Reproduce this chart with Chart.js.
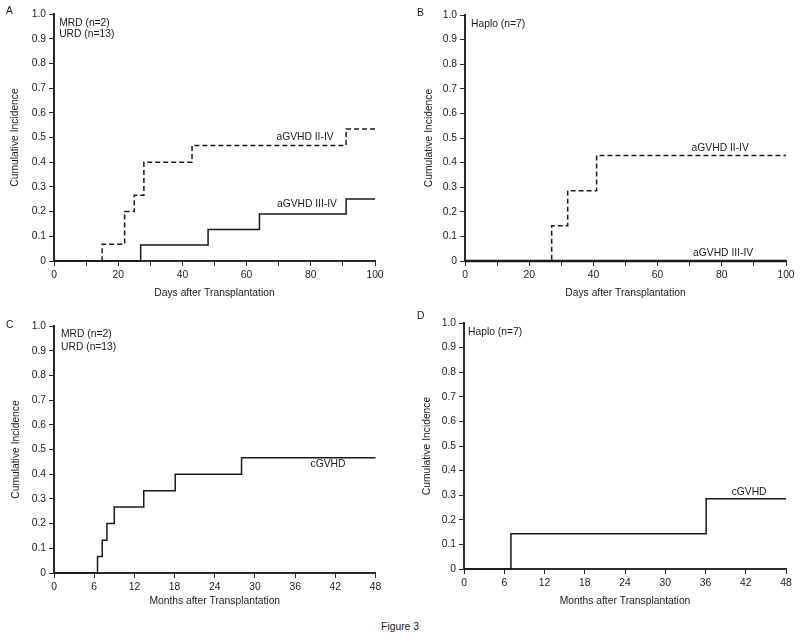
<!DOCTYPE html>
<html>
<head>
<meta charset="utf-8">
<script src="https://cdn.jsdelivr.net/npm/chart.js@4.4.0/dist/chart.umd.min.js"></script>
<style>
    body { margin: 0; background: #fff; width: 800px; height: 643px; position: relative; overflow: hidden;
           font-family: "Liberation Sans", Arial, sans-serif; color: #1a1a1a; }
    canvas { position: absolute; }
    .letter { position: absolute; font-size: 10.3px; line-height: 12px; }
    #fig { position: absolute; left: 0; width: 800px; top: 621px; text-align: center; font-size: 10.3px; }
</style>
</head>
<body>
<canvas id="panel-a" width="400" height="310" style="left:0;top:0"></canvas>
<canvas id="panel-b" width="400" height="310" style="left:400px;top:0"></canvas>
<canvas id="panel-c" width="400" height="310" style="left:0;top:310px"></canvas>
<canvas id="panel-d" width="400" height="310" style="left:400px;top:310px"></canvas>
<div class="letter" style="left:6px;top:5px">A</div>
<div class="letter" style="left:417px;top:7px">B</div>
<div class="letter" style="left:6px;top:319px">C</div>
<div class="letter" style="left:417px;top:310px">D</div>
<div id="fig">Figure 3</div>
<script>
// 数据：累积发生率（阶梯曲线）
const daysA_II = [0, 15, 22, 25, 28, 43, 91, 100];
const ciA_II = [0, 0.068, 0.2, 0.266, 0.4, 0.468, 0.534, 0.534];
const daysA_III = [0, 27, 48, 64, 91, 100];
const ciA_III = [0, 0.065, 0.128, 0.19, 0.251, 0.251];

const daysB_II = [0, 27, 32, 41, 100];
const ciB_II = [0, 0.143, 0.286, 0.429, 0.429];
const daysB_III = [0, 100];
const ciB_III = [0, 0];

const monthsC = [0, 6.5, 7.2, 7.9, 9, 13.4, 18.1, 28, 48];
const ciC = [0, 0.067, 0.133, 0.2, 0.267, 0.333, 0.4, 0.467, 0.467];

const monthsD = [0, 7, 36.1, 48];
const ciD = [0, 0.143, 0.286, 0.286];

// 刻度标签
const yTickLabels = ['0', '0.1', '0.2', '0.3', '0.4', '0.5', '0.6', '0.7', '0.8', '0.9', '1.0'];
const dayTickLabels = [0, 20, 40, 60, 80, 100];
const monthTickLabels = [0, 6, 12, 18, 24, 30, 36, 42, 48];

const INK = '#1a1a1a';
const AXIS = '#2a2a2a';
const FONT_SIZE = 10.3;

Chart.defaults.font.family = '"Liberation Sans", Arial, sans-serif';
Chart.defaults.font.size = FONT_SIZE;
Chart.defaults.color = INK;

function toPoints(xs, ys) {
    return xs.map((x, i) => ({ x: x, y: ys[i] }));
}

// 在数据坐标处绘制注释文字
const notesPlugin = {
    id: 'notes',
    afterDatasetsDraw(chart, args, opts) {
        const ctx = chart.ctx;
        const xs = chart.scales.x;
        const ys = chart.scales.y;
        ctx.save();
        ctx.fillStyle = INK;
        ctx.font = FONT_SIZE + 'px "Liberation Sans", Arial, sans-serif';
        ctx.textBaseline = 'middle';
        (opts.items || []).forEach(n => {
            ctx.textAlign = n.align || 'center';
            ctx.fillText(n.text, xs.getPixelForValue(n.x), ys.getPixelForValue(n.y));
        });
        ctx.restore();
    }
};

function makePanel(id, box, datasets, xCfg, notes) {
    const lineH = FONT_SIZE * 1.2;
    new Chart(document.getElementById(id), {
        type: 'line',
        data: { datasets: datasets },
        plugins: [notesPlugin],
        options: {
            responsive: false,
            animation: false,
            layout: { padding: { left: 0, right: 400 - box.right, top: box.top, bottom: 0 } },
            plugins: {
                legend: { display: false },
                tooltip: { enabled: false },
                notes: { items: notes }
            },
            elements: { point: { radius: 0 }, line: { tension: 0 } },
            scales: {
                x: {
                    type: 'linear',
                    min: 0,
                    max: xCfg.max,
                    afterFit(s) { s.height = 310 - box.bottom; s.paddingLeft = 0; s.paddingRight = 0; },
                    border: { color: AXIS, width: 2 },
                    grid: { drawOnChartArea: false, drawTicks: true, tickLength: 5, color: AXIS },
                    ticks: {
                        stepSize: xCfg.step,
                        padding: 3,
                        maxRotation: 0,
                        autoSkip: false,
                        callback: v => xCfg.labels.includes(v) ? String(v) : ''
                    },
                    title: {
                        display: true,
                        text: xCfg.title,
                        padding: { top: 0, bottom: 310 - box.xTitle - lineH / 2 }
                    }
                },
                y: {
                    type: 'linear',
                    min: 0,
                    max: 1,
                    afterFit(s) { s.width = box.left; s.paddingTop = 0; s.paddingBottom = 0; },
                    border: { color: AXIS, width: 2 },
                    grid: { drawOnChartArea: false, drawTicks: true, tickLength: 5, color: AXIS },
                    ticks: {
                        stepSize: 0.1,
                        padding: 3,
                        autoSkip: false,
                        callback: (v, i) => yTickLabels[i]
                    },
                    title: {
                        display: true,
                        text: 'Cumulative Incidence',
                        padding: { top: box.yTitle - lineH / 2, bottom: 0 }
                    }
                }
            }
        }
    });
}

function stepLine(xs, ys, dashed, width) {
    return {
        data: toPoints(xs, ys),
        borderColor: INK,
        borderWidth: width || 1.5,
        borderDash: dashed ? [5, 3] : [],
        stepped: 'before',
        fill: false,
        clip: false
    };
}

const dayAxis = { max: 100, step: 10, labels: dayTickLabels, title: 'Days after Transplantation' };
const monthAxis = { max: 48, step: 6, labels: monthTickLabels, title: 'Months after Transplantation' };

// A: MRD + URD 急性GVHD
makePanel('panel-a', { left: 54, right: 375, top: 14, bottom: 261, xTitle: 293, yTitle: 15 },
    [stepLine(daysA_II, ciA_II, true), stepLine(daysA_III, ciA_III, false)],
    dayAxis,
    [
        { text: 'aGVHD II-IV', x: 78.2, y: 0.502 },
        { text: 'aGVHD III-IV', x: 78.8, y: 0.231 },
        { text: 'MRD (n=2)', x: 1.6, y: 0.964, align: 'left' },
        { text: 'URD (n=13)', x: 1.6, y: 0.919, align: 'left' }
    ]);

// B: Haplo 急性GVHD
makePanel('panel-b', { left: 65, right: 386, top: 15, bottom: 261, xTitle: 293, yTitle: 29 },
    [stepLine(daysB_II, ciB_II, true), stepLine(daysB_III, ciB_III, false, 2.5)],
    dayAxis,
    [
        { text: 'aGVHD II-IV', x: 79.5, y: 0.459 },
        { text: 'aGVHD III-IV', x: 80.4, y: 0.03 },
        { text: 'Haplo (n=7)', x: 1.9, y: 0.963, align: 'left' }
    ]);

// C: MRD + URD 慢性GVHD
makePanel('panel-c', { left: 54, right: 375.5, top: 16, bottom: 263, xTitle: 291, yTitle: 16 },
    [stepLine(monthsC, ciC, false)],
    monthAxis,
    [
        { text: 'cGVHD', x: 40.9, y: 0.441 },
        { text: 'MRD (n=2)', x: 1.05, y: 0.968, align: 'left' },
        { text: 'URD (n=13)', x: 1.05, y: 0.915, align: 'left' }
    ]);

// D: Haplo 慢性GVHD
makePanel('panel-d', { left: 64, right: 386, top: 13, bottom: 259, xTitle: 291, yTitle: 27 },
    [stepLine(monthsD, ciD, false)],
    monthAxis,
    [
        { text: 'cGVHD', x: 42.5, y: 0.313 },
        { text: 'Haplo (n=7)', x: 0.6, y: 0.963, align: 'left' }
    ]);
</script>
</body>
</html>
